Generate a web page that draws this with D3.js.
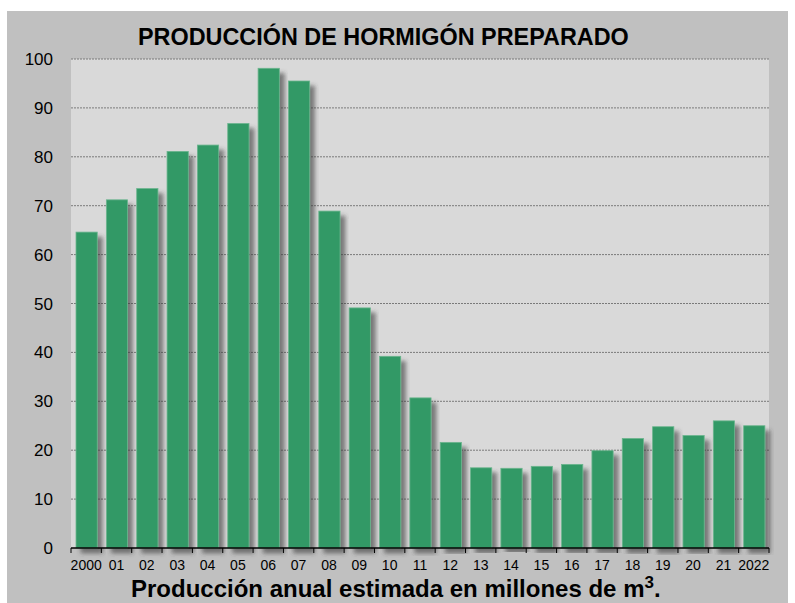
<!DOCTYPE html>
<meta charset="utf-8">
<script src="https://d3js.org/d3.v7.min.js"></script>
<style>
  body { margin: 0; background: #fff; }
  text { font-family: "Liberation Sans", Arial, sans-serif; }
</style>
<div id="chart"></div>
<script>
// data
var years = ["2000", "2001", "2002", "2003", "2004", "2005", "2006", "2007", "2008", "2009", "2010", "2011",
             "2012", "2013", "2014", "2015", "2016", "2017", "2018", "2019", "2020", "2021", "2022"];
var yearLabels = ["2000", "01", "02", "03", "04", "05", "06", "07", "08", "09", "10", "11",
                  "12", "13", "14", "15", "16", "17", "18", "19", "20", "21", "2022"];
var production = [64.6, 71.2, 73.5, 81.1, 82.4, 86.8, 98.1, 95.5, 68.9, 49.1, 39.2, 30.7,
                  21.6, 16.4, 16.3, 16.7, 17.1, 19.9, 22.4, 24.8, 23.0, 26.0, 25.0];
var yTicks = [0, 10, 20, 30, 40, 50, 60, 70, 80, 90, 100];

var W = 795, H = 603;
var plot = {left: 71, right: 769, top: 59, bottom: 548};

var svg = d3.select("#chart").append("svg")
    .attr("width", W)
    .attr("height", H);

// soft drop shadow for the bars
var defs = svg.append("defs");
var f = defs.append("filter").attr("id", "shadow")
    .attr("x", "-20%").attr("y", "-5%").attr("width", "160%").attr("height", "110%");
f.append("feGaussianBlur").attr("in", "SourceAlpha").attr("stdDeviation", 2.2).attr("result", "blur");
f.append("feOffset").attr("in", "blur").attr("dx", 5).attr("dy", 5).attr("result", "off");
f.append("feFlood").attr("flood-color", "#3a3a3a").attr("flood-opacity", 0.6);
f.append("feComposite").attr("in2", "off").attr("operator", "in").attr("result", "sh");
var m = f.append("feMerge");
m.append("feMergeNode").attr("in", "sh");
m.append("feMergeNode").attr("in", "SourceGraphic");

// outer frame
svg.append("rect")
    .attr("x", 7).attr("y", 11)
    .attr("width", 781).attr("height", H - 11)
    .attr("fill", "#c0c0c0");

// plot area
svg.append("rect")
    .attr("x", plot.left).attr("y", plot.top)
    .attr("width", plot.right - plot.left).attr("height", plot.bottom - plot.top)
    .attr("fill", "#d9d9d9");

var x = d3.scaleBand()
    .domain(years)
    .range([plot.left, plot.right])
    .padding(0);

var y = d3.scaleLinear()
    .domain([0, 100])
    .range([plot.bottom, plot.top]);

// grid lines
svg.append("g")
  .selectAll("line")
  .data(yTicks.filter(function(d) { return d > 0; }))
  .enter()
  .append("line")
    .attr("x1", plot.left).attr("x2", plot.right)
    .attr("y1", function(d) { return y(d); })
    .attr("y2", function(d) { return y(d); })
    .attr("stroke", "#7a7a7a")
    .attr("stroke-width", 1)
    .attr("stroke-dasharray", "2,1");

var bw = x.bandwidth() * 0.7;
var off = x.bandwidth() * 0.165;

// bars
svg.append("g")
  .selectAll("rect")
  .data(production)
  .enter()
  .append("rect")
    .attr("x", function(d, i) { return x(years[i]) + off; })
    .attr("y", function(d) { return y(d); })
    .attr("width", bw)
    .attr("height", function(d) { return plot.bottom - y(d); })
    .attr("fill", "#339966")
    .attr("stroke", "#6bb58e")
    .attr("stroke-width", 0.8)
    .attr("filter", "url(#shadow)");

// x axis line + ticks at band edges
svg.append("line")
    .attr("x1", plot.left).attr("x2", plot.right)
    .attr("y1", plot.bottom).attr("y2", plot.bottom)
    .attr("stroke", "#000").attr("stroke-width", 1.5);

svg.append("g")
  .selectAll("line")
  .data(years.concat(["end"]))
  .enter()
  .append("line")
    .attr("x1", function(d) { return d === "end" ? plot.right : x(d); })
    .attr("x2", function(d) { return d === "end" ? plot.right : x(d); })
    .attr("y1", plot.bottom).attr("y2", plot.bottom + 5)
    .attr("stroke", "#000").attr("stroke-width", 1);

// x tick labels
svg.append("g")
  .selectAll("text")
  .data(years)
  .enter()
  .append("text")
    .attr("x", function(d) { return x(d) + x.bandwidth() / 2; })
    .attr("y", 570)
    .attr("text-anchor", "middle")
    .style("font-size", "14px")
    .style("fill", "#000")
    .text(function(d, i) { return yearLabels[i]; });

// y tick labels
svg.append("g")
  .selectAll("text")
  .data(yTicks)
  .enter()
  .append("text")
    .attr("x", 53)
    .attr("y", function(d) { return y(d) + 6; })
    .attr("text-anchor", "end")
    .style("font-size", "17px")
    .style("fill", "#000")
    .text(function(d) { return d; });

// title
svg.append("text")
    .attr("x", 138)
    .attr("y", 45)
    .style("font-size", "23.4px")
    .style("font-weight", "bold")
    .style("fill", "#000")
    .text("PRODUCCIÓN DE HORMIGÓN PREPARADO");

// axis title
var xt = svg.append("text")
    .attr("x", 131)
    .attr("y", 597)
    .style("font-size", "24px")
    .style("font-weight", "bold")
    .style("fill", "#000");
xt.append("tspan")
    .text("Producción anual estimada en millones de m");
xt.append("tspan")
    .attr("dy", -9)
    .style("font-size", "17px")
    .text("3");
xt.append("tspan")
    .attr("dy", 9)
    .text(".");
</script>
